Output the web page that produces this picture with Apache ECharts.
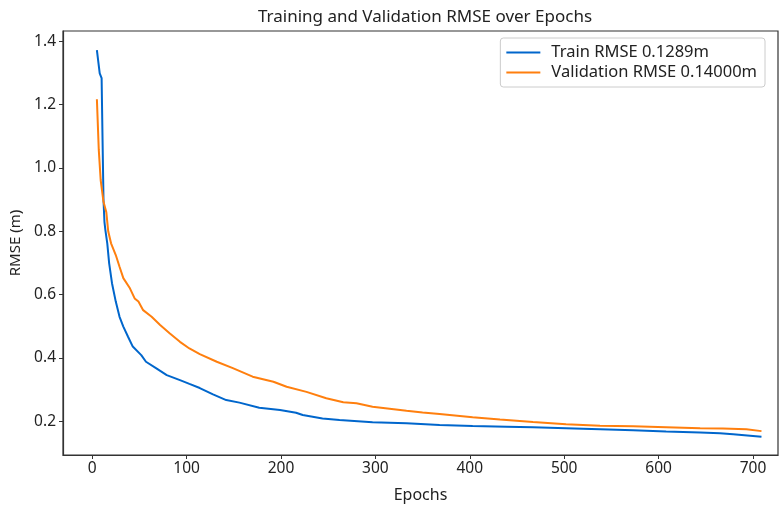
<!DOCTYPE html>
<html>
<head>
<meta charset="utf-8">
<script src="https://cdn.jsdelivr.net/npm/echarts@6/dist/echarts.min.js"></script>
<style>html,body{margin:0;padding:0;background:#fff}#c{width:783px;height:509px}</style>
</head>
<body>
<div id="c"></div>
<script>
var trainEpochs = [5,8,10,11,12,13,14,16,18,21,25,29,33,38,43,52,57,68,79,93,103,114,128,142,156,177,199,216,223,244,262,297,333,368,403,439,467,502,538,573,608,644,665,679,709];
var trainRmse   = [1.372,1.299,1.284,1.088,0.899,0.830,0.804,0.762,0.699,0.636,0.578,0.530,0.499,0.467,0.436,0.409,0.388,0.367,0.346,0.330,0.318,0.305,0.285,0.267,0.259,0.243,0.236,0.227,0.220,0.209,0.204,0.197,0.194,0.188,0.185,0.183,0.181,0.178,0.175,0.172,0.168,0.165,0.162,0.159,0.151];
var valEpochs = [5,7,9,12,15,17,20,25,29,33,40,45,49,54,63,72,82,93,103,114,132,149,170,192,206,227,248,266,280,297,315,333,350,368,403,432,467,502,538,573,608,644,668,693,709];
var valRmse   = [1.217,1.057,0.962,0.893,0.860,0.800,0.762,0.725,0.688,0.652,0.620,0.588,0.578,0.551,0.530,0.504,0.478,0.451,0.430,0.412,0.388,0.368,0.341,0.325,0.309,0.293,0.273,0.260,0.257,0.246,0.240,0.233,0.228,0.223,0.213,0.206,0.198,0.191,0.186,0.184,0.181,0.178,0.177,0.175,0.169];
var xTicks = [0,100,200,300,400,500,600,700];
var yTicks = [0.2,0.4,0.6,0.8,1.0,1.2,1.4];

function pairs(xs, ys){ return xs.map(function(x,i){ return [x, ys[i]]; }); }

var font = 'Noto Sans';
var chart = echarts.init(document.getElementById('c'));
chart.setOption({
  animation: false,
  title: {
    text: 'Training and Validation RMSE over Epochs',
    left: 420, top: 4, textAlign: 'center',
    textStyle: {fontFamily: font, fontSize: 17, fontWeight: 'normal', color: '#222'}
  },
  legend: {
    orient: 'vertical', right: 18, top: 38,
    backgroundColor: '#fff', borderColor: '#ccc', borderWidth: 1, borderRadius: 3,
    padding: [6, 8, 6, 6], itemGap: 3, itemWidth: 34, itemHeight: 2, icon: 'rect',
    textStyle: {fontFamily: font, fontSize: 16.5, color: '#222', padding: [0, 0, 0, 6]},
    data: ['Train RMSE 0.1289m', 'Validation RMSE 0.14000m']
  },
  grid: {left: 63, right: 5, top: 31, bottom: 54, show: true, borderColor: '#333', borderWidth: 1.2,
    backgroundColor: 'transparent', containLabel: false, outerBoundsMode: 'none'},
  xAxis: {
    type: 'value', min: -30.9, max: 726.5,
    name: 'Epochs', nameLocation: 'middle', nameGap: 32,
    nameTextStyle: {fontFamily: font, fontSize: 16, color: '#222'},
    axisLine: {show: true, onZero: false, lineStyle: {color: '#333', width: 1.2}},
    axisTick: {show: true, length: 4, lineStyle: {color: '#333'}, customValues: xTicks},
    axisLabel: {fontFamily: font, fontSize: 15.5, color: '#222', margin: 6, customValues: xTicks},
    splitLine: {show: false}
  },
  yAxis: {
    type: 'value', min: 0.0936, max: 1.4325,
    name: 'RMSE (m)', nameLocation: 'middle', nameGap: 40, nameRotate: 90,
    nameTextStyle: {fontFamily: font, fontSize: 15, color: '#222'},
    axisLine: {show: true, onZero: false, lineStyle: {color: '#333', width: 1.2}},
    axisTick: {show: true, length: 4, lineStyle: {color: '#333'}, customValues: yTicks},
    axisLabel: {fontFamily: font, fontSize: 15.5, color: '#222', margin: 7, customValues: yTicks,
      formatter: function(v){ return v.toFixed(1); }},
    splitLine: {show: false}
  },
  series: [
    {name: 'Train RMSE 0.1289m', type: 'line', data: pairs(trainEpochs, trainRmse), symbol: 'none',
     lineStyle: {color: '#0066cc', width: 2}, itemStyle: {color: '#0066cc'}},
    {name: 'Validation RMSE 0.14000m', type: 'line', data: pairs(valEpochs, valRmse), symbol: 'none',
     lineStyle: {color: '#ff7f0e', width: 2}, itemStyle: {color: '#ff7f0e'}}
  ]
});
</script>
</body>
</html>
